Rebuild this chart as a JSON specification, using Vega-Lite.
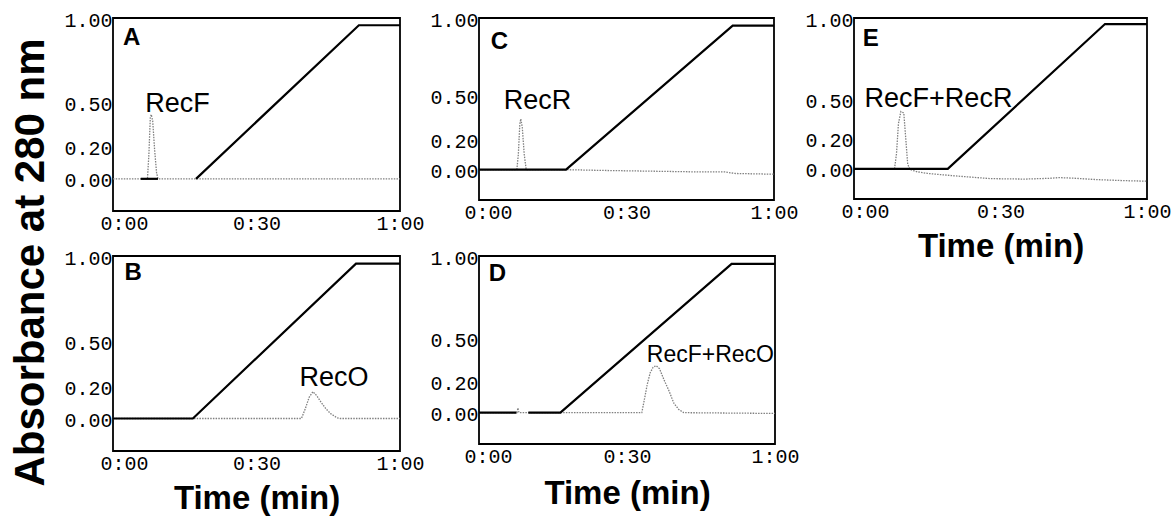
{
  "$schema": "https://vega.github.io/schema/vega-lite/v6.json",
  "padding": {"left": 10, "top": 9, "right": 5, "bottom": 2},
  "background": "white",
  "title": {"text": "Absorbance at 280 nm", "orient": "left", "anchor": "middle", "font": "Liberation Sans", "fontSize": 42, "fontWeight": "bold", "color": "black", "offset": 10},
  "config": {
    "view": {"stroke": "black", "strokeWidth": 1.8},
    "axis": {"domain": false, "grid": false, "ticks": false, "labelFlush": false, "labelFont": "Liberation Mono", "labelFontSize": 20, "labelColor": "black", "titleFont": "Liberation Sans", "titleFontSize": 33, "titleFontWeight": "bold", "titleColor": "black"}
  },
  "datasets": {
    "traces": [
      {"p": "A", "s": "trace", "t": 0, "a": 0}, {"p": "A", "s": "trace", "t": 7.2, "a": 0}, {"p": "A", "s": "trace", "t": 7.5, "a": 0.15}, {"p": "A", "s": "trace", "t": 7.8, "a": 0.38}, {"p": "A", "s": "trace", "t": 8.0, "a": 0.40}, {"p": "A", "s": "trace", "t": 8.3, "a": 0.36}, {"p": "A", "s": "trace", "t": 8.7, "a": 0.18}, {"p": "A", "s": "trace", "t": 9.1, "a": 0.04}, {"p": "A", "s": "trace", "t": 9.4, "a": 0}, {"p": "A", "s": "trace", "t": 60, "a": 0},
      {"p": "A", "s": "g1", "t": 5.8, "a": 0}, {"p": "A", "s": "g1", "t": 9.4, "a": 0},
      {"p": "A", "s": "g2", "t": 17.35, "a": 0}, {"p": "A", "s": "g2", "t": 51.4, "a": 0.955}, {"p": "A", "s": "g2", "t": 60, "a": 0.955},
      {"p": "B", "s": "trace", "t": 0, "a": 0}, {"p": "B", "s": "trace", "t": 39.4, "a": 0}, {"p": "B", "s": "trace", "t": 40.2, "a": 0.06}, {"p": "B", "s": "trace", "t": 41.0, "a": 0.13}, {"p": "B", "s": "trace", "t": 41.8, "a": 0.165}, {"p": "B", "s": "trace", "t": 42.6, "a": 0.14}, {"p": "B", "s": "trace", "t": 43.5, "a": 0.1}, {"p": "B", "s": "trace", "t": 44.5, "a": 0.06}, {"p": "B", "s": "trace", "t": 45.5, "a": 0.03}, {"p": "B", "s": "trace", "t": 46.8, "a": 0.005}, {"p": "B", "s": "trace", "t": 47.5, "a": 0}, {"p": "B", "s": "trace", "t": 60, "a": 0},
      {"p": "B", "s": "g1", "t": 0, "a": 0}, {"p": "B", "s": "g1", "t": 16.7, "a": 0}, {"p": "B", "s": "g1", "t": 50.8, "a": 0.953}, {"p": "B", "s": "g1", "t": 60, "a": 0.953},
      {"p": "C", "s": "trace", "t": 0, "a": 0}, {"p": "C", "s": "trace", "t": 7.7, "a": 0}, {"p": "C", "s": "trace", "t": 8.0, "a": 0.1}, {"p": "C", "s": "trace", "t": 8.3, "a": 0.3}, {"p": "C", "s": "trace", "t": 8.5, "a": 0.335}, {"p": "C", "s": "trace", "t": 8.8, "a": 0.28}, {"p": "C", "s": "trace", "t": 9.2, "a": 0.1}, {"p": "C", "s": "trace", "t": 9.6, "a": 0}, {"p": "C", "s": "trace", "t": 17.7, "a": 0}, {"p": "C", "s": "trace", "t": 25, "a": -0.005}, {"p": "C", "s": "trace", "t": 35, "a": -0.01}, {"p": "C", "s": "trace", "t": 45, "a": -0.015}, {"p": "C", "s": "trace", "t": 50, "a": -0.015}, {"p": "C", "s": "trace", "t": 52, "a": -0.025}, {"p": "C", "s": "trace", "t": 60, "a": -0.03},
      {"p": "C", "s": "g1", "t": 0, "a": 0}, {"p": "C", "s": "g1", "t": 17.7, "a": 0}, {"p": "C", "s": "g1", "t": 51.6, "a": 0.95}, {"p": "C", "s": "g1", "t": 60, "a": 0.95},
      {"p": "D", "s": "trace", "t": 0, "a": 0}, {"p": "D", "s": "trace", "t": 7.7, "a": 0}, {"p": "D", "s": "trace", "t": 7.9, "a": 0.03}, {"p": "D", "s": "trace", "t": 8.1, "a": 0}, {"p": "D", "s": "trace", "t": 33.0, "a": 0}, {"p": "D", "s": "trace", "t": 33.5, "a": 0.08}, {"p": "D", "s": "trace", "t": 34.1, "a": 0.18}, {"p": "D", "s": "trace", "t": 34.7, "a": 0.255}, {"p": "D", "s": "trace", "t": 35.3, "a": 0.29}, {"p": "D", "s": "trace", "t": 35.9, "a": 0.30}, {"p": "D", "s": "trace", "t": 36.6, "a": 0.28}, {"p": "D", "s": "trace", "t": 37.5, "a": 0.21}, {"p": "D", "s": "trace", "t": 38.5, "a": 0.14}, {"p": "D", "s": "trace", "t": 39.5, "a": 0.06}, {"p": "D", "s": "trace", "t": 40.5, "a": 0.02}, {"p": "D", "s": "trace", "t": 41.5, "a": 0}, {"p": "D", "s": "trace", "t": 60, "a": -0.005},
      {"p": "D", "s": "g1", "t": 0, "a": 0}, {"p": "D", "s": "g1", "t": 7.6, "a": 0},
      {"p": "D", "s": "g2", "t": 10, "a": 0}, {"p": "D", "s": "g2", "t": 16.5, "a": 0}, {"p": "D", "s": "g2", "t": 51.2, "a": 0.95}, {"p": "D", "s": "g2", "t": 60, "a": 0.95},
      {"p": "E", "s": "trace", "t": 0, "a": 0}, {"p": "E", "s": "trace", "t": 8.3, "a": 0}, {"p": "E", "s": "trace", "t": 8.7, "a": 0.1}, {"p": "E", "s": "trace", "t": 9.1, "a": 0.3}, {"p": "E", "s": "trace", "t": 9.6, "a": 0.38}, {"p": "E", "s": "trace", "t": 10.2, "a": 0.37}, {"p": "E", "s": "trace", "t": 10.6, "a": 0.2}, {"p": "E", "s": "trace", "t": 11.0, "a": 0.03}, {"p": "E", "s": "trace", "t": 11.5, "a": -0.005}, {"p": "E", "s": "trace", "t": 13, "a": -0.02}, {"p": "E", "s": "trace", "t": 15, "a": -0.03}, {"p": "E", "s": "trace", "t": 20, "a": -0.045}, {"p": "E", "s": "trace", "t": 28, "a": -0.065}, {"p": "E", "s": "trace", "t": 35, "a": -0.068}, {"p": "E", "s": "trace", "t": 40, "a": -0.063}, {"p": "E", "s": "trace", "t": 42, "a": -0.058}, {"p": "E", "s": "trace", "t": 45, "a": -0.062}, {"p": "E", "s": "trace", "t": 50, "a": -0.072}, {"p": "E", "s": "trace", "t": 55, "a": -0.078}, {"p": "E", "s": "trace", "t": 60, "a": -0.082},
      {"p": "E", "s": "g1", "t": 0, "a": 0}, {"p": "E", "s": "g1", "t": 19.2, "a": 0}, {"p": "E", "s": "g1", "t": 51.4, "a": 0.96}, {"p": "E", "s": "g1", "t": 60, "a": 0.96}
    ],
    "labels": [
      {"p": "A", "kind": "letter", "txt": "A", "t": 2.1, "a": 0.873}, {"p": "A", "kind": "peak", "txt": "RecF", "t": 13.5, "a": 0.466},
      {"p": "B", "kind": "letter", "txt": "B", "t": 2.4, "a": 0.896}, {"p": "B", "kind": "peak", "txt": "RecO", "t": 46.2, "a": 0.25},
      {"p": "C", "kind": "letter", "txt": "C", "t": 2.4, "a": 0.84}, {"p": "C", "kind": "peak", "txt": "RecR", "t": 11.9, "a": 0.45},
      {"p": "D", "kind": "letter", "txt": "D", "t": 2.0, "a": 0.887}, {"p": "D", "kind": "peak", "txt": "RecF+RecO", "t": 46.9, "a": 0.367},
      {"p": "E", "kind": "letter", "txt": "E", "t": 1.8, "a": 0.86}, {"p": "E", "kind": "peak", "txt": "RecF+RecR", "t": 17.3, "a": 0.46}
    ]
  },
  "bounds": "flush",
  "align": "each",
  "columns": 3,
  "spacing": {"row": 45, "column": 79},
  "concat": [
    {
      "width": 287, "height": 193,
      "encoding": {
        "x": {"field": "t", "type": "quantitative", "scale": {"domain": [0, 60]}, "axis": {"values": [0, 30, 60], "labelExpr": "datum.value === 0 ? '0:00' : datum.value === 30 ? '0:30' : '1:00'", "labelPadding": 2, "labelOffset": {"condition": {"test": "datum.value === 0", "value": 11}, "value": 0}, "title": null}},
        "y": {"field": "a", "type": "quantitative", "scale": {"domain": [-0.2, 1.0]}, "axis": {"values": [0, 0.2, 0.5, 1], "format": ".2f", "labelPadding": 1, "labelOffset": {"condition": {"test": "datum.value === 0.5", "value": 6}, "value": 2}, "title": null}}
      },
      "layer": [
        {"data": {"name": "traces"}, "transform": [{"filter": "datum.p === 'A' && datum.s === 'trace'"}], "mark": {"type": "line", "color": "#808080", "strokeWidth": 1.3, "strokeDash": [1.5, 1.2]}},
        {"data": {"name": "traces"}, "transform": [{"filter": "datum.p === 'A' && datum.s !== 'trace'"}], "mark": {"type": "line", "color": "black", "strokeWidth": 2.2}, "encoding": {"detail": {"field": "s"}}},
        {"data": {"name": "labels"}, "transform": [{"filter": "datum.p === 'A' && datum.kind === 'letter'"}], "mark": {"type": "text", "font": "Liberation Sans", "fontWeight": "bold", "fontSize": 24, "align": "left", "baseline": "middle", "color": "black"}, "encoding": {"text": {"field": "txt"}}},
        {"data": {"name": "labels"}, "transform": [{"filter": "datum.p === 'A' && datum.kind === 'peak'"}], "mark": {"type": "text", "font": "Liberation Sans", "fontSize": 27, "align": "center", "baseline": "middle", "color": "black"}, "encoding": {"text": {"field": "txt"}}}
      ]
    },
    {
      "width": 295, "height": 182,
      "encoding": {
        "x": {"field": "t", "type": "quantitative", "scale": {"domain": [0, 60]}, "axis": {"values": [0, 30, 60], "labelExpr": "datum.value === 0 ? '0:00' : datum.value === 30 ? '0:30' : '1:00'", "labelPadding": 2, "labelOffset": {"condition": {"test": "datum.value === 0", "value": 9}, "value": 0}, "title": null}},
        "y": {"field": "a", "type": "quantitative", "scale": {"domain": [-0.2, 1.0]}, "axis": {"values": [0, 0.2, 0.5, 1], "format": ".2f", "labelPadding": 1, "labelOffset": {"condition": {"test": "datum.value === 0.5", "value": 4}, "value": 2}, "title": null}}
      },
      "layer": [
        {"data": {"name": "traces"}, "transform": [{"filter": "datum.p === 'C' && datum.s === 'trace'"}], "mark": {"type": "line", "color": "#808080", "strokeWidth": 1.3, "strokeDash": [1.5, 1.2]}},
        {"data": {"name": "traces"}, "transform": [{"filter": "datum.p === 'C' && datum.s !== 'trace'"}], "mark": {"type": "line", "color": "black", "strokeWidth": 2.2}, "encoding": {"detail": {"field": "s"}}},
        {"data": {"name": "labels"}, "transform": [{"filter": "datum.p === 'C' && datum.kind === 'letter'"}], "mark": {"type": "text", "font": "Liberation Sans", "fontWeight": "bold", "fontSize": 24, "align": "left", "baseline": "middle", "color": "black"}, "encoding": {"text": {"field": "txt"}}},
        {"data": {"name": "labels"}, "transform": [{"filter": "datum.p === 'C' && datum.kind === 'peak'"}], "mark": {"type": "text", "font": "Liberation Sans", "fontSize": 27, "align": "center", "baseline": "middle", "color": "black"}, "encoding": {"text": {"field": "txt"}}}
      ]
    },
    {
      "width": 293, "height": 181,
      "encoding": {
        "x": {"field": "t", "type": "quantitative", "scale": {"domain": [0, 60]}, "axis": {"values": [0, 30, 60], "labelExpr": "datum.value === 0 ? '0:00' : datum.value === 30 ? '0:30' : '1:00'", "labelPadding": 2, "labelOffset": {"condition": {"test": "datum.value === 0", "value": 11}, "value": 0}, "title": "Time (min)", "titlePadding": 9}},
        "y": {"field": "a", "type": "quantitative", "scale": {"domain": [-0.2, 1.0]}, "axis": {"values": [0, 0.2, 0.5, 1], "format": ".2f", "labelPadding": 1, "labelOffset": {"condition": {"test": "datum.value === 0.5", "value": 8}, "value": 2}, "title": null}}
      },
      "layer": [
        {"data": {"name": "traces"}, "transform": [{"filter": "datum.p === 'E' && datum.s === 'trace'"}], "mark": {"type": "line", "color": "#808080", "strokeWidth": 1.3, "strokeDash": [1.5, 1.2]}},
        {"data": {"name": "traces"}, "transform": [{"filter": "datum.p === 'E' && datum.s !== 'trace'"}], "mark": {"type": "line", "color": "black", "strokeWidth": 2.2}, "encoding": {"detail": {"field": "s"}}},
        {"data": {"name": "labels"}, "transform": [{"filter": "datum.p === 'E' && datum.kind === 'letter'"}], "mark": {"type": "text", "font": "Liberation Sans", "fontWeight": "bold", "fontSize": 24, "align": "left", "baseline": "middle", "color": "black"}, "encoding": {"text": {"field": "txt"}}},
        {"data": {"name": "labels"}, "transform": [{"filter": "datum.p === 'E' && datum.kind === 'peak'"}], "mark": {"type": "text", "font": "Liberation Sans", "fontSize": 27, "align": "center", "baseline": "middle", "color": "black"}, "encoding": {"text": {"field": "txt"}}}
      ]
    },
    {
      "width": 287, "height": 195,
      "encoding": {
        "x": {"field": "t", "type": "quantitative", "scale": {"domain": [0, 60]}, "axis": {"values": [0, 30, 60], "labelExpr": "datum.value === 0 ? '0:00' : datum.value === 30 ? '0:30' : '1:00'", "labelPadding": 2, "labelOffset": {"condition": {"test": "datum.value === 0", "value": 11}, "value": 0}, "title": "Time (min)", "titlePadding": 9}},
        "y": {"field": "a", "type": "quantitative", "scale": {"domain": [-0.2, 1.0]}, "axis": {"values": [0, 0.2, 0.5, 1], "format": ".2f", "labelPadding": 1, "labelOffset": {"condition": {"test": "datum.value === 0.5", "value": 6}, "value": 2}, "title": null}}
      },
      "layer": [
        {"data": {"name": "traces"}, "transform": [{"filter": "datum.p === 'B' && datum.s === 'trace'"}], "mark": {"type": "line", "color": "#808080", "strokeWidth": 1.3, "strokeDash": [1.5, 1.2]}},
        {"data": {"name": "traces"}, "transform": [{"filter": "datum.p === 'B' && datum.s !== 'trace'"}], "mark": {"type": "line", "color": "black", "strokeWidth": 2.2}, "encoding": {"detail": {"field": "s"}}},
        {"data": {"name": "labels"}, "transform": [{"filter": "datum.p === 'B' && datum.kind === 'letter'"}], "mark": {"type": "text", "font": "Liberation Sans", "fontWeight": "bold", "fontSize": 24, "align": "left", "baseline": "middle", "color": "black"}, "encoding": {"text": {"field": "txt"}}},
        {"data": {"name": "labels"}, "transform": [{"filter": "datum.p === 'B' && datum.kind === 'peak'"}], "mark": {"type": "text", "font": "Liberation Sans", "fontSize": 27, "align": "center", "baseline": "middle", "color": "black"}, "encoding": {"text": {"field": "txt"}}}
      ]
    },
    {
      "width": 296, "height": 188,
      "encoding": {
        "x": {"field": "t", "type": "quantitative", "scale": {"domain": [0, 60]}, "axis": {"values": [0, 30, 60], "labelExpr": "datum.value === 0 ? '0:00' : datum.value === 30 ? '0:30' : '1:00'", "labelPadding": 2, "labelOffset": {"condition": {"test": "datum.value === 0", "value": 9}, "value": 0}, "title": "Time (min)", "titlePadding": 11}},
        "y": {"field": "a", "type": "quantitative", "scale": {"domain": [-0.2, 1.0]}, "axis": {"values": [0, 0.2, 0.5, 1], "format": ".2f", "labelPadding": 1, "labelOffset": {"condition": {"test": "datum.value === 0.5", "value": 6}, "value": 2}, "title": null}}
      },
      "layer": [
        {"data": {"name": "traces"}, "transform": [{"filter": "datum.p === 'D' && datum.s === 'trace'"}], "mark": {"type": "line", "color": "#808080", "strokeWidth": 1.3, "strokeDash": [1.5, 1.2]}},
        {"data": {"name": "traces"}, "transform": [{"filter": "datum.p === 'D' && datum.s !== 'trace'"}], "mark": {"type": "line", "color": "black", "strokeWidth": 2.2}, "encoding": {"detail": {"field": "s"}}},
        {"data": {"name": "labels"}, "transform": [{"filter": "datum.p === 'D' && datum.kind === 'letter'"}], "mark": {"type": "text", "font": "Liberation Sans", "fontWeight": "bold", "fontSize": 24, "align": "left", "baseline": "middle", "color": "black"}, "encoding": {"text": {"field": "txt"}}},
        {"data": {"name": "labels"}, "transform": [{"filter": "datum.p === 'D' && datum.kind === 'peak'"}], "mark": {"type": "text", "font": "Liberation Sans", "fontSize": 23, "align": "center", "baseline": "middle", "color": "black"}, "encoding": {"text": {"field": "txt"}}}
      ]
    }
  ]
}
